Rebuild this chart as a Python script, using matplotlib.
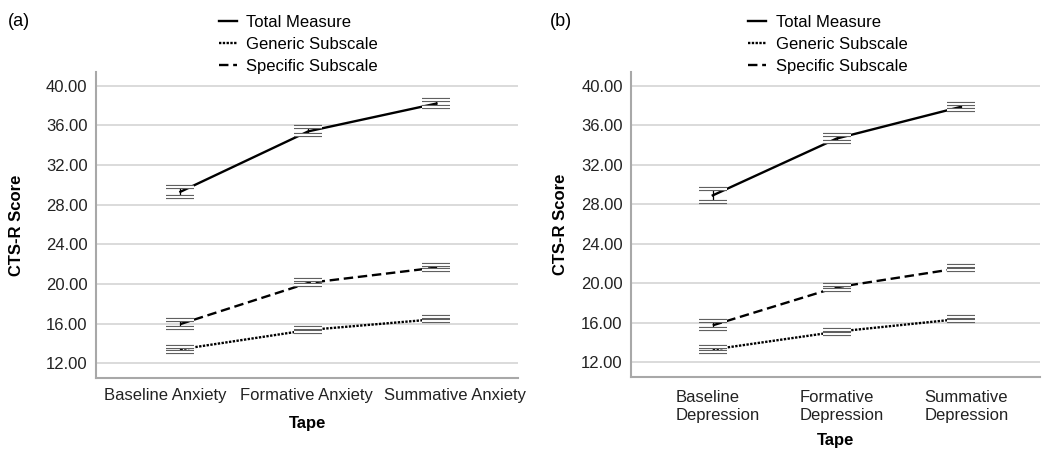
import numpy as np
import matplotlib

matplotlib.use('Agg')
import matplotlib.pyplot as plt
import matplotlib.transforms as mtransforms

plt.rcParams['font.family'] = ['Liberation Sans', 'DejaVu Sans']

# panel (a): anxiety tapes
anx_labels = ['Baseline Anxiety', 'Formative Anxiety', 'Summative Anxiety']
anx_total = [29.3, 35.4, 38.2]
anx_total_err = [0.5, 0.4, 0.33]
anx_generic = [13.4, 15.35, 16.45]
anx_generic_err = [0.27, 0.17, 0.2]
anx_specific = [15.95, 20.1, 21.65]
anx_specific_err = [0.37, 0.25, 0.24]

# panel (b): depression tapes
dep_labels = ['Baseline\nDepression', 'Formative\nDepression', 'Summative\nDepression']
dep_total = [28.9, 34.65, 37.85]
dep_total_err = [0.66, 0.36, 0.32]
dep_generic = [13.3, 15.1, 16.4]
dep_generic_err = [0.29, 0.2, 0.17]
dep_specific = [15.75, 19.6, 21.55]
dep_specific_err = [0.4, 0.24, 0.22]

series_names = ['Total Measure', 'Generic Subscale', 'Specific Subscale']
series_styles = ['-', (0, (1, 0.6)), (0, (4, 2))]
y_ticks = [12, 16, 20, 24, 28, 32, 36, 40]


def draw_panel(ax, labels, series, errors):
    x = np.arange(len(labels))
    for name, ls, vals, err in zip(series_names, series_styles, series, errors):
        vals = np.array(vals)
        err = np.array(err)
        ax.plot(x, vals, color='black', linestyle=ls, linewidth=1.7,
                label=name, zorder=3, dash_capstyle='butt')
        ax.vlines(x, vals - err, vals + err, color='black', linewidth=0.9, zorder=4)
        for ends in (vals - err, vals + err):
            ax.plot(x, ends, linestyle='none', marker='_', markersize=20.5,
                    markeredgewidth=3.0, color='#606060', zorder=5)
            ax.plot(x, ends, linestyle='none', marker='_', markersize=19.5,
                    markeredgewidth=1.4, color='white', zorder=6)
    ax.set_xticks(x)
    ax.set_xticklabels(labels, fontsize=12, multialignment='left', linespacing=1.25)
    ax.set_yticks(y_ticks)
    ax.set_yticklabels(['%.2f' % t for t in y_ticks], fontsize=12)
    ax.set_ylim(10.5, 41.4)
    ax.set_xlim(-0.66, 2.64)
    ax.tick_params(length=0, colors='#222222')
    ax.tick_params(axis='y', pad=6)
    ax.grid(axis='y', color='#d8d8d8', linewidth=1.3)
    ax.set_axisbelow(True)
    for side in ('top', 'right'):
        ax.spines[side].set_visible(False)
    for side in ('left', 'bottom'):
        ax.spines[side].set_color('#a8a8a8')
        ax.spines[side].set_linewidth(1.5)
    ax.set_ylabel('CTS-R Score', fontsize=12, fontweight='bold')
    ax.set_xlabel('Tape', fontsize=12, fontweight='bold')


def shift_ticklabels(fig, ax, shifts):
    for lab, dx in zip(ax.get_xticklabels(), shifts):
        off = mtransforms.ScaledTranslation(dx / 100, 0, fig.dpi_scale_trans)
        lab.set_transform(lab.get_transform() + off)


fig = plt.figure(figsize=(10.43, 4.49), dpi=100)
ax1 = fig.add_axes([0.092, 0.158, 0.405, 0.682])
ax2 = fig.add_axes([0.605, 0.160, 0.392, 0.680])

draw_panel(ax1, anx_labels, [anx_total, anx_generic, anx_specific],
           [anx_total_err, anx_generic_err, anx_specific_err])
draw_panel(ax2, dep_labels, [dep_total, dep_generic, dep_specific],
           [dep_total_err, dep_generic_err, dep_specific_err])

ax1.tick_params(axis='x', pad=7)
ax2.tick_params(axis='x', pad=9)
shift_ticklabels(fig, ax1, [-15, -2, 19])
shift_ticklabels(fig, ax2, [5, 5, 6])
ax1.yaxis.set_label_coords(-0.171, 0.5)
ax2.yaxis.set_label_coords(-0.154, 0.5)
ax1.xaxis.set_label_coords(0.5, -0.124)
ax2.xaxis.set_label_coords(0.5, -0.182)

for ax, lx in ((ax1, 219), (ax2, 748)):
    h, l = ax.get_legend_handles_labels()
    fig.legend(h, l, loc='upper left', bbox_to_anchor=(lx / 1043, 1 - 15 / 449),
               frameon=False, fontsize=12, handlelength=1.1, handletextpad=0.55,
               labelspacing=0.42, borderaxespad=0, borderpad=0)

fig.text(8 / 1043, 1 - 21 / 449, '(a)', fontsize=13, va='center', ha='left')
fig.text(550 / 1043, 1 - 21 / 449, '(b)', fontsize=13, va='center', ha='left')

fig.savefig('out.png', dpi=100)
